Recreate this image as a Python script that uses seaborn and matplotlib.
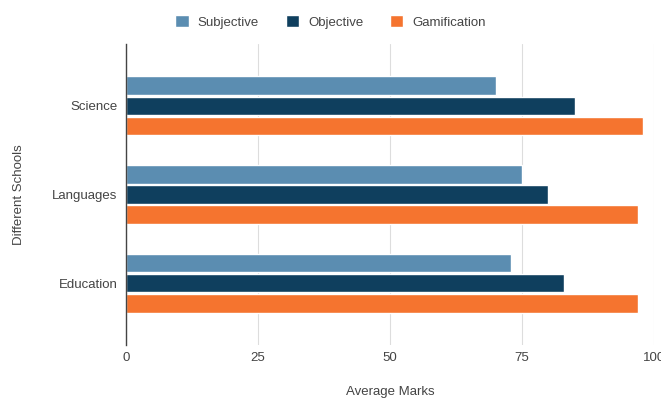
import pandas as pd
import numpy as np
import matplotlib.pyplot as plt
import seaborn as sns

# data
schools = ['Science', 'Languages', 'Education']
series = ['Subjective', 'Objective', 'Gamification']
subjective = [70, 75, 73]
objective = [85, 80, 83]
gamification = [98, 97, 97]
x_ticks = [0, 25, 50, 75, 100]

colors = ['#5b8db1', '#0f3f5e', '#f5742f']

df = pd.DataFrame({'School': schools,
                   'Subjective': subjective,
                   'Objective': objective,
                   'Gamification': gamification})
df = df.melt(id_vars='School', var_name='Type', value_name='Marks')

sns.set_style('white')
plt.rcParams['font.family'] = ['Liberation Sans', 'DejaVu Sans']

fig = plt.figure(figsize=(6.61, 3.99), dpi=100)
ax = fig.add_axes([0.1906, 0.1353, 0.7988, 0.7544])

sns.barplot(data=df, y='School', x='Marks', hue='Type', hue_order=series,
            order=schools, palette=colors, saturation=1, orient='h',
            width=0.68, gap=0.06, ax=ax, legend=True)

ax.set_xlim(0, 100)
ax.set_ylim(2.7, -0.7)
ax.set_xticks(x_ticks)
ax.xaxis.grid(True, color='#dddddd', linewidth=0.8)
ax.set_axisbelow(True)
for s in ['top', 'right', 'bottom']:
    ax.spines[s].set_visible(False)
ax.spines['left'].set_color('#444444')
ax.spines['left'].set_linewidth(1.0)
ax.tick_params(axis='both', length=0, labelsize=9.5, labelcolor='#444444')
ax.tick_params(axis='x', pad=5)
ax.tick_params(axis='y', pad=6)

ax.set_xlabel('Average Marks', fontsize=9.5, color='#444444', labelpad=16)
ax.set_ylabel('Different Schools', fontsize=9.5, color='#444444', labelpad=20)

handles, labels = ax.get_legend_handles_labels()
ax.get_legend().remove()
fig.legend(handles, labels, loc='center', bbox_to_anchor=(0.5, 0.945), ncol=3,
           frameon=False, fontsize=9.5, handlelength=1.0, handleheight=1.0,
           columnspacing=2.0, handletextpad=0.7, labelcolor='#444444')

fig.savefig('out.png', dpi=100)
